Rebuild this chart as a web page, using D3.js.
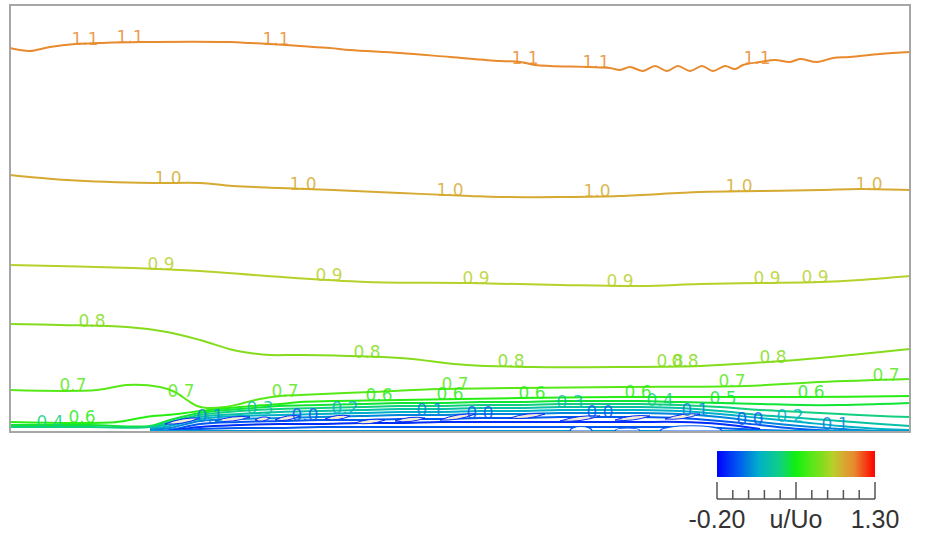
<!DOCTYPE html>
<html><head><meta charset="utf-8">
<script src="https://cdn.jsdelivr.net/npm/d3@7"></script>
<style>html,body{margin:0;padding:0;background:#fff;} svg{display:block;}</style>
</head><body>
<svg id="c" width="940" height="537"></svg>
<script>
// ---------- DATA (x along wall 0..900, y above wall 0..427) ----------
const xDomain = [0, 900];
const yDomain = [0, 427];

const c11 = [[0,384],[10,382],[20,381],[40,385],[65,388],[90,389],[130,390],[220,390],[240,389],[260,388],[290,386],[320,384],[340,382],[390,379],[440,375],[490,371],[510,370],[525,367],[540,366],[580,365],[600,364],[610,362],[620,365],[633,361],[645,366],[657,361],[668,366],[680,361],[692,366],[703,361],[715,366],[725,363],[733,367],[750,370],[765,372],[780,370],[790,373],[807,370],[823,374],[840,375],[870,378],[900,380]];
const c10 = [[0,257],[57,252],[143,249],[190,249],[223,246],[270,244],[323,242],[390,239],[460,236],[490,235],[550,235],[610,236],[690,240],[750,241],[810,242],[850,243],[900,242]];
const c09 = [[0,167],[123,164],[190,161],[257,156],[357,150],[460,149],[550,147],[630,146],[690,148],[750,149],[810,150],[850,152],[900,156]];
const c08 = [[0,108],[50,107],[117,105],[157,100],[190,92],[223,82],[240,79],[260,77],[290,77],[390,74],[457,67],[523,65],[610,65],[690,66],[743,69],[810,74],[900,83]];
const c07 = [[0,42],[87,42],[117,47],[150,45],[165,40],[177,32],[187,26],[197,24],[215,25],[230,28],[250,33],[270,36],[290,37],[360,40],[430,43],[510,44],[610,45],[735,46],[810,50],[900,53]];
const c06 = [[0,10],[107,10],[130,14],[143,16],[157,17],[175,19],[190,21],[230,25],[270,28],[290,30],[390,32],[510,34],[610,35],[710,35],[790,35],[900,36]];

const bandX  = [0,80,140,160,190,230,270,310,350,390,430,470,510,550,590,630,670,710,750,790,830,870,900];
const band05 = [7,7,6,12,19,23,26,27,28,29,29,30,30,31,31,31,30,29,28,27,27,28,29];
const band04 = [5,5,5,10,17,21,23,24,25,26,26,27,27,28,28,28,27,25,22,20,18,16,15];
const band03 = [null,null,4,8,15,18,20,21,22,23,23,24,24,25,25,25,24,21,17,14,11,8,6];
const band02 = [null,null,3,6,13,16,17,18,19,20,20,21,21,22,22,22,21,18,14,10,6,3,2];
const band01 = [null,null,2,4,11,13,14,15,16,17,17,18,18,19,19,19,18,15,10,6,3,1,1];
const band00 = [null,null,1,2,8,10,11,12,12,13,13,14,14,15,15,15,14,11,7,3,1,0,0];
const bandN1 = [null,null,null,1,5,7,8,8,9,9,10,10,10,10,10,10,10,8,3,null,null,null,null];
const bandW0 = [null,null,null,1,3,4,4,5,5,5,5,5,5,5,5,5,5,4,2,1,null,null,null];
const bandW1 = [null,null,1,1,1,1,1,1,1,1,1,1,1,1,1,1,1,1,1,1,1,1,1];

const labels11 = [75,120,266,515,586,747];
const labels10 = [158,293,440,587,729,859];
const labels09 = [151,319,466,610,757,805];
const labels08 = [82,357,501,660,675,763];
const labels07 = [63,171,275,445,722,876];
const labels06 = [72,369,440,522,628,801];
const labels05 = [713];
const labels04 = [40,650];
const labels03 = [250,560];
const labels02 = [335,780];
const labels01 = [200,420,685,825];
const labels00 = [295,470,590,740];

// separation streaks: [x0, x1, y0, y1]
const bubbles = [[155,190,8,14],[205,240,11,15],[245,260,12,14],[265,290,12,16],[315,340,13,16],[345,375,9,12],[385,415,11,14],[430,465,12,18],[500,535,14,18],[550,590,11,16],[605,640,12,16],[655,690,13,18]];
// wall gaps: [x0, x1, height]
const gaps = [[560,582,7],[605,630,5],[650,712,8]];

// colour map
const cStops = [-0.2,0.0,0.2,0.4,0.55,0.7,0.8,0.9,1.0,1.1,1.3];
const cCols  = ["#0000ff","#0058f0","#00b0c8","#10d080","#10f010","#58e818","#84dc1c","#b8d02a","#d6aa30","#e88a2e","#ff0000"];
const barRange = [-0.2, 1.3];
const barTicks = [-0.2,-0.05,0.1,0.25,0.4,0.55,0.7,0.85,1.0,1.15,1.3];
const barMajor = [-0.2,0.55,1.3];
const barLabels = ["-0.20","u/Uo","1.30"];

// ---------- DRAW ----------
const svg = d3.select("#c");
const x = d3.scaleLinear().domain(xDomain).range([10,910]);
const y = d3.scaleLinear().domain(yDomain).range([432,5]);
const color = d3.scaleLinear().domain(cStops).range(cCols);

const bandPts = arr => bandX.map((xx,i)=>[xx,arr[i]]).filter(d=>d[1]!==null);
const contours = [
  {lv:1.1, pts:c11, lab:labels11},
  {lv:1.0, pts:c10, lab:labels10},
  {lv:0.9, pts:c09, lab:labels09},
  {lv:0.8, pts:c08, lab:labels08},
  {lv:0.7, pts:c07, lab:labels07},
  {lv:0.6, pts:c06, lab:labels06},
  {lv:0.5, pts:bandPts(band05), lab:labels05},
  {lv:0.4, pts:bandPts(band04), lab:labels04},
  {lv:0.3, pts:bandPts(band03), lab:labels03},
  {lv:0.2, pts:bandPts(band02), lab:labels02},
  {lv:0.1, pts:bandPts(band01), lab:labels01},
  {lv:0.0, pts:bandPts(band00), lab:labels00},
  {lv:-0.1, pts:bandPts(bandN1), lab:[]},
  {lv:0.0, pts:bandPts(bandW0), lab:[]},
  {lv:0.15, pts:bandPts(bandW1), lab:[]}
];

const line = d3.line().x(d=>x(d[0])).y(d=>y(d[1])).curve(d3.curveCatmullRom.alpha(0.5));

svg.append("rect").attr("x",10).attr("y",5).attr("width",900).attr("height",427).attr("fill","#fff");

const gL = svg.append("g");
contours.forEach(c=>{
  gL.append("path").attr("d",line(c.pts)).attr("fill","none")
    .attr("stroke",color(c.lv)).attr("stroke-width",2).attr("stroke-linejoin","round");
});

// streaks
const gB = svg.append("g");
gaps.forEach(g=>{
  const [x0,x1,h]=g;
  const p=d3.path();
  p.moveTo(x(x0),y(0)-1);
  p.bezierCurveTo(x(x0),y(h),x(x1),y(h),x(x1),y(0)-1);
  p.closePath();
  gB.append("path").attr("d",p.toString()).attr("fill","#fff")
    .attr("stroke",color(0.0)).attr("stroke-width",1.2);
});
bubbles.forEach(b=>{
  const [x0,x1,y0,y1]=b;
  const xm=(x0+x1)/2, ym=(y0+y1)/2;
  const p=d3.path();
  p.moveTo(x(x0),y(y0));
  p.quadraticCurveTo(x(xm),y(ym)-4,x(x1),y(y1));
  p.quadraticCurveTo(x(xm),y(ym)+4,x(x0),y(y0));
  gB.append("path").attr("d",p.toString()).attr("fill","#f4ead4")
    .attr("stroke",color(-0.1)).attr("stroke-width",1);
});

// labels
function interpY(pts, xx){
  for(let i=0;i<pts.length-1;i++){
    const a=pts[i], b=pts[i+1];
    if(xx>=a[0] && xx<=b[0]){ const t=(xx-a[0])/(b[0]-a[0]||1); return a[1]+t*(b[1]-a[1]); }
  }
  return pts[pts.length-1][1];
}
const gT = svg.append("g").attr("font-family","'DejaVu Sans', Verdana, sans-serif")
  .attr("font-size",17).attr("text-anchor","middle").attr("fill-opacity",0.85);
contours.forEach(c=>{
  c.lab.forEach(lx=>{
    gT.append("text").attr("x",x(lx)).attr("y",y(interpY(c.pts,lx))+1)
      .attr("fill",color(c.lv)).text(c.lv.toFixed(1));
  });
});

// frame
svg.append("rect").attr("x",10).attr("y",5).attr("width",900).attr("height",427)
  .attr("fill","none").attr("stroke","#a6a6a6").attr("stroke-width",2);

// ---------- COLOUR BAR ----------
const bx = d3.scaleLinear().domain(barRange).range([717,875]);
const defs = svg.append("defs");
const grad = defs.append("linearGradient").attr("id","cb");
cStops.forEach((s,i)=>{
  grad.append("stop").attr("offset",((s-barRange[0])/(barRange[1]-barRange[0])*100)+"%").attr("stop-color",cCols[i]);
});
svg.append("rect").attr("x",bx(barRange[0])).attr("y",451).attr("width",bx(barRange[1])-bx(barRange[0])).attr("height",26).attr("fill","url(#cb)");
const gA = svg.append("g").attr("stroke","#555").attr("stroke-width",1.5);
gA.append("line").attr("x1",bx(barRange[0])).attr("x2",bx(barRange[1])).attr("y1",499).attr("y2",499);
barTicks.forEach(t=>{
  const major = barMajor.some(m=>Math.abs(m-t)<1e-6);
  gA.append("line").attr("x1",bx(t)).attr("x2",bx(t)).attr("y1",499).attr("y2",major?482:490);
});
const labPos = [barRange[0], (barRange[0]+barRange[1])/2, barRange[1]];
svg.append("g").attr("font-family","'Liberation Sans', Arial, sans-serif").attr("font-size",25)
  .attr("fill","#333").attr("text-anchor","middle")
  .selectAll("text").data(barLabels).join("text")
  .attr("x",(d,i)=>bx(labPos[i])).attr("y",528).text(d=>d);
</script>
</body></html>
